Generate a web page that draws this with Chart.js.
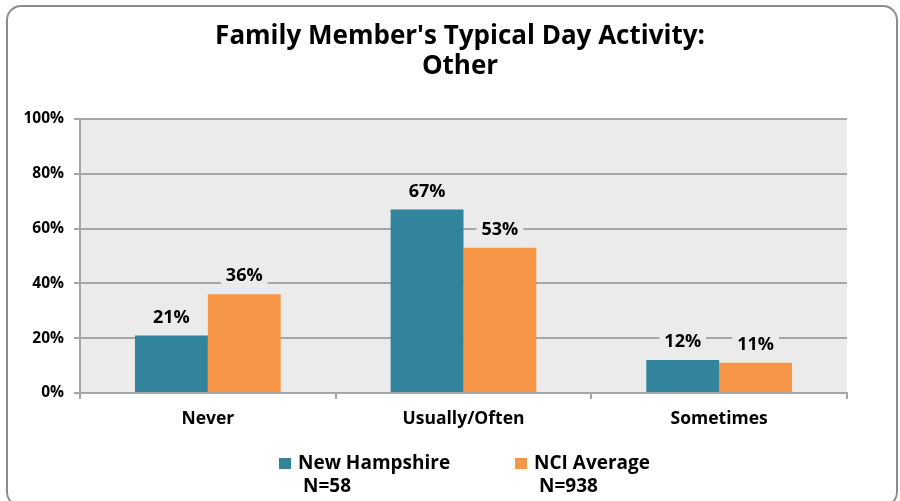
<!DOCTYPE html>
<html>
<head>
<meta charset="utf-8">
<script src="https://cdn.jsdelivr.net/npm/chart.js@4"></script>
<style>
  html, body { margin: 0; padding: 0; background: #fff; }
  #wrap { width: 900px; height: 501px; }
</style>
</head>
<body>
<div id="wrap"><canvas id="chart" width="900" height="501"></canvas></div>
<script>
const categories = ['Never', 'Usually/Often', 'Sometimes'];
const nhValues = [21, 67, 12];
const nciValues = [36, 53, 11];
const seriesNames = [['New Hampshire', 'N=58'], ['NCI Average', 'N=938']];
const titleLines = ["Family Member's Typical Day Activity:", 'Other'];
const yTicks = [0, 20, 40, 60, 80, 100];

const TEAL = '#31849B';
const ORANGE = '#F79646';
const FONT = '"Open Sans", Lato, sans-serif';

// draws the frame, title, value labels and the two-line legend
const decorPlugin = {
    id: 'decor',
    beforeDraw(chart) {
        const ctx = chart.ctx;
        ctx.save();
        ctx.fillStyle = '#fff';
        ctx.fillRect(0, 0, chart.width, chart.height);
        ctx.strokeStyle = '#8c8c8c';
        ctx.lineWidth = 2;
        ctx.beginPath();
        ctx.roundRect(7, 6, 890, 500, 14);
        ctx.stroke();
        const a = chart.chartArea;
        ctx.fillStyle = '#ebebeb';
        ctx.fillRect(a.left, a.top, a.right - a.left, a.bottom - a.top);
        ctx.restore();
    },
    afterDraw(chart) {
        const ctx = chart.ctx;
        ctx.save();
        ctx.fillStyle = '#000';
        ctx.textAlign = 'center';
        ctx.textBaseline = 'middle';
        ctx.font = `bold 26px ${FONT}`;
        ctx.fillText(titleLines[0], 460, 37);
        ctx.fillText(titleLines[1], 460, 67);

        ctx.font = `bold 18px ${FONT}`;
        chart.data.datasets.forEach((ds, i) => {
            chart.getDatasetMeta(i).data.forEach((bar, j) => {
                const txt = ds.data[j] + '%';
                const w = ctx.measureText(txt).width;
                ctx.fillStyle = '#ebebeb';
                ctx.fillRect(bar.x - w / 2 - 5, bar.y - 30, w + 10, 24);
                ctx.fillStyle = '#000';
                ctx.fillText(txt, bar.x, bar.y - 18);
            });
        });

        const legendX = [279, 515];
        ctx.textAlign = 'left';
        ctx.font = `bold 19px ${FONT}`;
        seriesNames.forEach((name, i) => {
            ctx.fillStyle = i === 0 ? TEAL : ORANGE;
            ctx.fillRect(legendX[i], 458, 12, 11);
            ctx.fillStyle = '#000';
            ctx.fillText(name[0], legendX[i] + 19, 464);
            ctx.fillText(name[1], legendX[i] + 24, 487);
        });
        ctx.restore();
    }
};

new Chart(document.getElementById('chart'), {
    type: 'bar',
    data: {
        labels: categories,
        datasets: [
            { label: seriesNames[0].join(' '), data: nhValues, backgroundColor: TEAL },
            { label: seriesNames[1].join(' '), data: nciValues, backgroundColor: ORANGE }
        ]
    },
    options: {
        responsive: false,
        animation: false,
        layout: { padding: { top: 119, right: 53, bottom: 0, left: 0 } },
        plugins: {
            legend: { display: false },
            title: { display: false },
            tooltip: { enabled: false }
        },
        datasets: { bar: { categoryPercentage: 0.57, barPercentage: 1 } },
        scales: {
            x: {
                afterFit: s => { s.height = 108; },
                grid: { offset: true, drawOnChartArea: false, color: '#a6a6a6', tickLength: 6, lineWidth: 2 },
                border: { color: '#a6a6a6', width: 2 },
                ticks: { color: '#000', font: { family: FONT, size: 17.5, weight: 'bold' }, padding: 10 }
            },
            y: {
                min: 0,
                max: 100,
                afterFit: s => { s.width = 80; },
                afterBuildTicks: s => { s.ticks = yTicks.map(v => ({ value: v })); },
                grid: { color: '#a6a6a6', lineWidth: 2, tickLength: 6 },
                border: { color: '#a6a6a6', width: 2 },
                ticks: {
                    color: '#000',
                    font: { family: FONT, size: 15.5, weight: 'bold' },
                    padding: 10,
                    callback: v => v + '%'
                }
            }
        }
    },
    plugins: [decorPlugin]
});
</script>
</body>
</html>
